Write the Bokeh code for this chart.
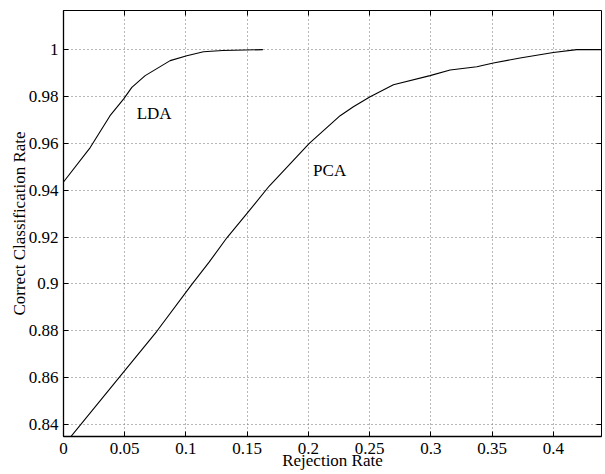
from bokeh.plotting import figure
from bokeh.models import Range1d, FixedTicker, LinearAxis, ColumnDataSource
from bokeh.core.properties import value
from bokeh.embed import file_html
from bokeh.resources import INLINE

# data
lda_x = [0.0, 0.0218, 0.038, 0.049, 0.0558, 0.0667, 0.0871, 0.1007, 0.1143, 0.130, 0.1628]
lda_y = [0.9435, 0.9582, 0.9718, 0.9789, 0.9839, 0.9889, 0.9953, 0.9974, 0.9991, 0.9996, 1.0]

pca_x = [0.0, 0.045, 0.0762, 0.1048, 0.1189, 0.1334, 0.1497, 0.1680, 0.2007, 0.2259, 0.2367,
         0.2504, 0.2694, 0.2993, 0.3157, 0.3375, 0.3510, 0.3728, 0.4, 0.4191, 0.439]
pca_y = [0.831, 0.8598, 0.8798, 0.8998, 0.9093, 0.9197, 0.9300, 0.9418, 0.9600, 0.9718, 0.9756,
         0.9799, 0.9850, 0.9889, 0.9913, 0.9927, 0.9943, 0.9964, 0.9988, 1.0, 1.0]

x_ticks = [0.0, 0.05, 0.1, 0.15, 0.2, 0.25, 0.3, 0.35, 0.4]
x_tick_labels = ["0", "0.05", "0.1", "0.15", "0.2", "0.25", "0.3", "0.35", "0.4"]
y_ticks = [0.84, 0.86, 0.88, 0.9, 0.92, 0.94, 0.96, 0.98, 1.0]
y_tick_labels = ["0.84", "0.86", "0.88", "0.9", "0.92", "0.94", "0.96", "0.98", "1"]

label_names = ["LDA", "PCA"]
label_x = [0.074, 0.2173]
label_y = [0.9728, 0.9485]

FONT = "Liberation Serif"
FS = "17px"

p = figure(width=604, height=474, output_backend="svg", toolbar_location=None,
           x_range=Range1d(0, 0.4393), y_range=Range1d(0.8349, 1.0167),
           min_border_left=63, min_border_right=3, min_border_top=10, min_border_bottom=38)
p.background_fill_color = "white"
p.border_fill_color = "white"
p.outline_line_color = "black"
p.outline_line_width = 1

p.line(lda_x, lda_y, line_color="black", line_width=1.1)
p.line(pca_x, pca_y, line_color="black", line_width=1.1)

src = ColumnDataSource(dict(x=label_x, y=label_y, t=label_names))
p.text(x="x", y="y", text="t", source=src, text_font=value(FONT), text_font_size=FS,
       text_align="center", text_baseline="middle", text_color="black")

for ax in (p.xaxis[0], p.yaxis[0]):
    ax.major_tick_in = 5
    ax.major_tick_out = 0
    ax.minor_tick_line_color = None
    ax.axis_line_color = "black"
    ax.axis_line_width = 1.3
    ax.major_tick_line_color = "black"
    ax.major_label_text_font = FONT
    ax.major_label_text_font_size = FS
    ax.major_label_text_color = "black"
    ax.axis_label_text_font = FONT
    ax.axis_label_text_font_size = FS
    ax.axis_label_text_font_style = "normal"
    ax.axis_label_text_color = "black"

p.xaxis[0].ticker = FixedTicker(ticks=x_ticks)
p.yaxis[0].ticker = FixedTicker(ticks=y_ticks)
p.xaxis[0].major_label_overrides = {t: l for t, l in zip(x_ticks, x_tick_labels)}
p.yaxis[0].major_label_overrides = {t: l for t, l in zip(y_ticks, y_tick_labels)}
p.xaxis[0].axis_label = "Rejection Rate"
p.yaxis[0].axis_label = "Correct Classification Rate"
p.xaxis[0].major_label_standoff = 6
p.xaxis[0].axis_label_standoff = -6
p.yaxis[0].major_label_standoff = 5
p.yaxis[0].axis_label_standoff = -3

# mirrored ticks (no labels)
top = LinearAxis(ticker=FixedTicker(ticks=x_ticks), major_tick_in=5, major_tick_out=0,
                 minor_tick_line_color=None, axis_line_color=None,
                 major_label_overrides={t: "" for t in x_ticks}, major_label_standoff=0)
right = LinearAxis(ticker=FixedTicker(ticks=y_ticks), major_tick_in=5, major_tick_out=0,
                   minor_tick_line_color=None, axis_line_color=None,
                   major_label_overrides={t: "" for t in y_ticks}, major_label_standoff=0)
p.add_layout(top, "above")
p.add_layout(right, "right")

p.xgrid[0].ticker = FixedTicker(ticks=x_ticks)
p.ygrid[0].ticker = FixedTicker(ticks=y_ticks)
for g in (p.xgrid[0], p.ygrid[0]):
    g.grid_line_color = "#6e6e6e"
    g.grid_line_dash = "1 3"
    g.grid_line_width = 1

open("out.html", "w").write(file_html(p, INLINE))
